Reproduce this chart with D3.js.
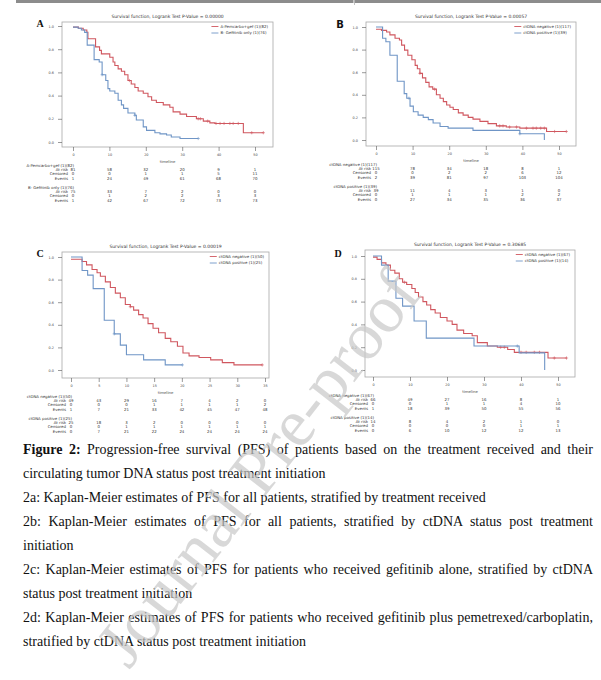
<!DOCTYPE html>
<html><head><meta charset="utf-8">
<script src="https://cdn.jsdelivr.net/npm/d3@7"></script>
<style>body{margin:0;background:#fff}svg{display:block}</style>
</head><body>
<script>
// ---------------- DATA ----------------
const titles = [
  "Survival function, Logrank Test P-Value = 0.00000",
  "Survival function, Logrank Test P-Value = 0.00057",
  "Survival function, Logrank Test P-Value = 0.00019",
  "Survival function, Logrank Test P-Value = 0.30685"
];
const ticks50 = [0, 10, 20, 30, 40, 50];
const ticks35 = [0, 5, 10, 15, 20, 25, 30, 35];
const yTicks = [0, 0.2, 0.4, 0.6, 0.8, 1.0];
const rowLabels = ["At risk", "Censored", "Events"];

const legendA = ["A-Pemcarbo+gef (1)(82)", "B- Gefitinib only (1)(76)"];
const legendB = ["ctDNA negative (1)(117)", "ctDNA positive (1)(39)"];
const legendC = ["ctDNA negative (1)(50)", "ctDNA positive (1)(25)"];
const legendD = ["ctDNA negative (1)(67)", "ctDNA positive (1)(14)"];

// Panel A
const aRedT = [0, 1.5, 2.8, 3.8, 4.1, 6.2, 7.3, 7.8, 10.1, 11, 11.5, 12.4, 13.3, 14.2, 15.1, 16, 17, 17.9, 19.3, 20.6, 21.6, 22.9, 24.8, 26.6, 27.5, 29.4, 31.2, 33.9, 35.8, 37.6, 39, 46.8];
const aRedS = [0.99, 0.98, 0.965, 0.945, 0.89, 0.82, 0.79, 0.76, 0.73, 0.69, 0.66, 0.63, 0.61, 0.58, 0.53, 0.50, 0.47, 0.44, 0.42, 0.39, 0.36, 0.34, 0.32, 0.30, 0.26, 0.24, 0.22, 0.20, 0.18, 0.165, 0.16, 0.08];
const aRedEnd = 52.3;
const aRedCens = [15.5, 34.4, 35, 37, 39.3, 40.4, 41.5, 43.1, 44, 45.4, 49.1, 52.3];
const aBlueT = [0, 1.4, 2.3, 3.2, 3.9, 5.8, 7.2, 8, 9, 9.6, 10.1, 11.5, 12.4, 13.3, 13.9, 15.1, 17, 17.4, 19.3, 20.2, 22.5, 23.9, 25.7, 27, 29.4];
const aBlueS = [0.99, 0.98, 0.965, 0.945, 0.835, 0.71, 0.69, 0.58, 0.53, 0.46, 0.44, 0.42, 0.36, 0.32, 0.29, 0.25, 0.23, 0.19, 0.13, 0.10, 0.08, 0.07, 0.06, 0.043, 0.03];
const aBlueEnd = 34.4;
const aBlueCens = [8, 17, 34.4];
const aTab1 = {atRisk: [81, 58, 32, 20, 9, 1], censored: [0, 0, 1, 1, 5, 11], events: [1, 24, 49, 61, 68, 70]};
const aTab2 = {atRisk: [75, 33, 7, 2, 0, 0], censored: [0, 1, 2, 2, 3, 3], events: [1, 42, 67, 72, 73, 73]};

// Panel B
const bRedT = [0, 1.5, 2.9, 3.8, 5.2, 6.4, 7.0, 7.8, 8.7, 9.8, 10.7, 11.3, 12, 12.7, 13.6, 14.5, 15.5, 16.5, 17.5, 18.4, 19.3, 20.2, 21.1, 22.5, 23.8, 25.2, 26.5, 28.4, 30.6, 32.9, 35.6, 39.3, 46.6];
const bRedS = [0.98, 0.97, 0.956, 0.93, 0.90, 0.885, 0.84, 0.795, 0.75, 0.71, 0.66, 0.63, 0.59, 0.55, 0.51, 0.47, 0.45, 0.40, 0.37, 0.34, 0.31, 0.29, 0.27, 0.24, 0.22, 0.20, 0.185, 0.165, 0.145, 0.125, 0.115, 0.105, 0.075];
const bRedEnd = 52;
const bRedCens = [12, 16, 33.8, 34.7, 36.5, 38.4, 41.1, 42.9, 43.8, 45, 46, 48.8, 52];
const bBlueT = [0, 1.8, 2.7, 3.8, 5.8, 7.7, 8.4, 9.3, 10.2, 11.5, 12.9, 14.3, 15.6, 17.5, 19.7, 26.5, 39.3, 46];
const bBlueS = [1.0, 0.90, 0.87, 0.75, 0.52, 0.41, 0.37, 0.30, 0.25, 0.22, 0.20, 0.18, 0.15, 0.12, 0.105, 0.085, 0.055, 0];
const bBlueEnd = 46;
const bBlueCens = [9, 39.3];
const bTab1 = {atRisk: [115, 78, 34, 18, 8, 1], censored: [0, 0, 2, 2, 6, 12], events: [2, 39, 81, 97, 103, 104]};
const bTab2 = {atRisk: [39, 11, 4, 3, 1, 0], censored: [0, 1, 1, 1, 2, 2], events: [0, 27, 34, 35, 36, 37]};

// Panel C
const cRedT = [0, 2, 2.8, 3.8, 4.7, 5.3, 6.2, 7.1, 8, 8.9, 9.8, 10.7, 11.3, 12.2, 13, 13.9, 14.8, 15.8, 17, 18, 19.2, 20.2, 21.3, 23.1, 25.2, 27.3, 29.4];
const cRedS = [0.98, 0.96, 0.93, 0.89, 0.86, 0.83, 0.78, 0.73, 0.68, 0.64, 0.58, 0.56, 0.53, 0.49, 0.46, 0.41, 0.37, 0.33, 0.28, 0.25, 0.21, 0.15, 0.125, 0.11, 0.09, 0.065, 0.045];
const cRedEnd = 34.5;
const cRedCens = [10.7, 34.5];
const cBlueT = [0, 2, 3, 4, 6, 7.8, 8.9, 10, 13.1, 17];
const cBlueS = [1.0, 0.88, 0.84, 0.72, 0.44, 0.32, 0.22, 0.135, 0.09, 0.045];
const cBlueEnd = 20.1;
const cBlueCens = [7.8, 20.1];
const cTab1 = {atRisk: [49, 43, 29, 16, 7, 4, 2, 0], censored: [0, 0, 0, 1, 1, 1, 1, 2], events: [1, 7, 21, 33, 42, 45, 47, 48]};
const cTab2 = {atRisk: [25, 18, 3, 2, 0, 0, 0, 0], censored: [0, 0, 1, 1, 1, 1, 1, 1], events: [0, 7, 21, 22, 24, 24, 24, 24]};

// Panel D
const dRedT = [0, 1.1, 2.3, 3.5, 4.7, 5.9, 7.1, 8, 9.1, 10.5, 11.4, 12.3, 13.5, 14.5, 15.6, 16.8, 18.2, 20, 21.4, 22.7, 24.5, 26.8, 28.2, 30.9, 33.6, 36.4, 38.2, 47.3];
const dRedS = [0.99, 0.97, 0.94, 0.92, 0.875, 0.85, 0.80, 0.77, 0.75, 0.715, 0.68, 0.64, 0.60, 0.57, 0.53, 0.50, 0.46, 0.43, 0.40, 0.35, 0.32, 0.30, 0.24, 0.21, 0.20, 0.18, 0.155, 0.105];
const dRedEnd = 52.3;
const dRedCens = [8.5, 34.5, 35.5, 40, 41.4, 43.6, 45, 49, 52.3];
const dBlueT = [0, 2.3, 4.1, 6.2, 8, 11.1, 14.4, 27.3, 39.5, 46.4];
const dBlueS = [1.0, 0.92, 0.78, 0.63, 0.56, 0.43, 0.28, 0.21, 0.15, 0];
const dBlueEnd = 46.4;
const dBlueCens = [39];
const dTab1 = {atRisk: [66, 49, 27, 16, 8, 1], censored: [0, 0, 1, 1, 4, 10], events: [1, 18, 39, 50, 55, 56]};
const dTab2 = {atRisk: [14, 8, 4, 2, 1, 0], censored: [0, 0, 0, 0, 1, 1], events: [0, 6, 10, 12, 12, 13]};

const captionLines = [
  {parts: [{t: "Figure 2:", b: true}, {t: " Progression-free survival (PFS) of patients based on the treatment received and their"}], justify: true},
  {parts: [{t: "circulating tumor DNA status post treatment initiation"}], justify: false},
  {parts: [{t: "2a: Kaplan-Meier estimates of PFS for all patients, stratified by treatment received"}], justify: false},
  {parts: [{t: "2b: Kaplan-Meier estimates of PFS for all patients, stratified by ctDNA status post treatment"}], justify: true},
  {parts: [{t: "initiation"}], justify: false},
  {parts: [{t: "2c: Kaplan-Meier estimates of PFS for patients who received gefitinib alone, stratified by ctDNA"}], justify: true},
  {parts: [{t: "status post treatment initiation"}], justify: false},
  {parts: [{t: "2d: Kaplan-Meier estimates of PFS for patients who received gefitinib plus pemetrexed/carboplatin,"}], justify: true},
  {parts: [{t: "stratified by ctDNA status post treatment initiation"}], justify: false}
];
const watermarkText = "Journal Pre-proof";

// ---------------- DRAW ----------------
const RED = "#d0575f", BLUE = "#6f95c6";
const SANS = "DejaVu Sans", SERIF = "Liberation Serif";

const svg = d3.select("body").append("svg").attr("width", 601).attr("height", 680);
svg.append("rect").attr("width", 601).attr("height", 680).attr("fill", "#fff");

// top strip
svg.append("rect").attr("x", 16).attr("y", 0).attr("width", 585).attr("height", 3).attr("fill", "#8c8c8c");
svg.append("rect").attr("x", 353.5).attr("y", 0).attr("width", 1.2).attr("height", 3).attr("fill", "#fff");
svg.append("rect").attr("x", 354).attr("y", 0).attr("width", 0.6).attr("height", 5).attr("fill", "#999");

const panels = [
  {letter: "A", lf: SERIF, lx: 40, ly: 25, frame: [62, 273, 22, 147], xd: [0, 50], xr: [73, 255], yr: [142, 26], xt: ticks50, title: titles[0], legend: legendA,
   series: [[aRedT, aRedS, aRedEnd, aRedCens, RED], [aBlueT, aBlueS, aBlueEnd, aBlueCens, BLUE]], tabs: [aTab1, aTab2]},
  {letter: "B", lf: SANS, lx: 340, ly: 25, frame: [366, 576, 22, 146], xd: [0, 50], xr: [376, 559], yr: [140, 27], xt: ticks50, title: titles[1], legend: legendB,
   series: [[bRedT, bRedS, bRedEnd, bRedCens, RED], [bBlueT, bBlueS, bBlueEnd, bBlueCens, BLUE]], tabs: [bTab1, bTab2]},
  {letter: "C", lf: SERIF, lx: 40, ly: 255, frame: [62, 269, 252, 378], xd: [0, 35], xr: [71, 265], yr: [370, 257], xt: ticks35, title: titles[2], legend: legendC,
   series: [[cRedT, cRedS, cRedEnd, cRedCens, RED], [cBlueT, cBlueS, cBlueEnd, cBlueCens, BLUE]], tabs: [cTab1, cTab2]},
  {letter: "D", lf: SERIF, lx: 338, ly: 255, frame: [365, 575, 250, 377], xd: [0, 50], xr: [373, 558], yr: [370, 256], xt: ticks50, title: titles[3], legend: legendD,
   series: [[dRedT, dRedS, dRedEnd, dRedCens, RED], [dBlueT, dBlueS, dBlueEnd, dBlueCens, BLUE]], tabs: [dTab1, dTab2]}
];

function survAt(T, S, t) {
  let v = S[0];
  for (let i = 0; i < T.length; i++) if (T[i] <= t) v = S[i];
  return v;
}

panels.forEach(p => {
  const [L, R, Tp, B] = p.frame;
  const g = svg.append("g");
  const x = d3.scaleLinear().domain(p.xd).range(p.xr);
  const y = d3.scaleLinear().domain([0, 1]).range(p.yr);

  g.append("rect").attr("x", L).attr("y", Tp).attr("width", R - L).attr("height", B - Tp)
    .attr("fill", "none").attr("stroke", "#a8a8a8").attr("stroke-width", 0.8);

  const ya = g.append("g").attr("transform", `translate(${L},0)`)
    .call(d3.axisLeft(y).tickValues(yTicks).tickSize(4).tickPadding(4).tickFormat(d3.format(".1f")));
  const xa = g.append("g").attr("transform", `translate(0,${B})`)
    .call(d3.axisBottom(x).tickValues(p.xt).tickSize(4).tickPadding(3).tickFormat(d3.format("d")));
  [ya, xa].forEach(a => {
    a.select(".domain").remove();
    a.selectAll(".tick line").attr("stroke", "#555").attr("stroke-width", 0.6);
    a.selectAll(".tick text").attr("font-family", SANS).attr("font-size", 3.4).attr("fill", "#444");
  });

  g.append("text").attr("x", (L + R) / 2).attr("y", Tp - 5.5).attr("text-anchor", "middle")
    .attr("dominant-baseline", "middle").attr("font-family", SANS).attr("font-size", 4.5).attr("fill", "#333").text(p.title);
  g.append("text").attr("x", p.lx).attr("y", p.ly).attr("text-anchor", "middle").attr("dominant-baseline", "middle")
    .attr("font-family", p.lf).attr("font-weight", "bold").attr("font-size", 10).attr("fill", "#111").text(p.letter);
  g.append("text").attr("x", (L + R) / 2).attr("y", B + 14.5).attr("text-anchor", "middle").attr("dominant-baseline", "middle")
    .attr("font-family", SANS).attr("font-size", 3.8).attr("fill", "#444").text("timeline");

  const line = d3.line().x(d => x(d[0])).y(d => y(d[1])).curve(d3.curveStepAfter);
  p.series.forEach(([T, S, end, cens, col]) => {
    const pts = T.map((t, i) => [t, S[i]]);
    pts.push([end, S[S.length - 1]]);
    g.append("path").attr("d", line(pts)).attr("fill", "none").attr("stroke", col).attr("stroke-width", 1.1);
    g.selectAll(null).data(cens).enter().append("path")
      .attr("d", t => { const cx = x(t), cy = y(survAt(T, S, t)); return `M${cx - 1.6},${cy}h3.2M${cx},${cy - 1.6}v3.2`; })
      .attr("stroke", col).attr("stroke-width", 0.6).attr("fill", "none");
  });

  const leg = g.append("g");
  const texts = p.legend.map((lab, i) => leg.append("text").attr("y", Tp + 4.5 + i * 6.5).attr("dominant-baseline", "middle")
    .attr("font-family", SANS).attr("font-size", 3.9).attr("fill", "#333").text(lab));
  const maxW = d3.max(texts, t => t.node().getComputedTextLength());
  const tx = R - 5 - maxW;
  texts.forEach((t, i) => {
    t.attr("x", tx);
    leg.append("line").attr("x1", tx - 9).attr("x2", tx - 2).attr("y1", Tp + 4.5 + i * 6.5).attr("y2", Tp + 4.5 + i * 6.5)
      .attr("stroke", i === 0 ? RED : BLUE).attr("stroke-width", 0.9);
  });

  const x0 = x(p.xt[0]);
  p.tabs.forEach((tab, gi) => {
    const base = B + 18.5 + gi * 22;
    g.append("text").attr("x", x0 + 1).attr("y", base).attr("text-anchor", "end").attr("dominant-baseline", "middle")
      .attr("font-family", SANS).attr("font-size", 3.9).attr("fill", "#333").text(p.legend[gi]);
    const rows = [tab.atRisk, tab.censored, tab.events];
    rows.forEach((vals, ri) => {
      const ry = base + 4.5 + ri * 4.4;
      g.append("text").attr("x", x0 - 5).attr("y", ry).attr("text-anchor", "end").attr("dominant-baseline", "middle")
        .attr("font-family", SANS).attr("font-size", 3.9).attr("fill", "#333").text(rowLabels[ri]);
      g.selectAll(null).data(vals).enter().append("text")
        .attr("x", (v, k) => x(p.xt[k])).attr("y", ry).attr("text-anchor", "middle").attr("dominant-baseline", "middle")
        .attr("font-family", SANS).attr("font-size", 3.9).attr("fill", "#333").text(v => v);
    });
  });
});

// caption
captionLines.forEach((ln, i) => {
  const yb = 453.5 + i * 24;
  const t = svg.append("text").attr("x", 23).attr("y", yb).attr("font-family", SERIF).attr("font-size", 14).attr("fill", "#111");
  ln.parts.forEach(pt => t.append("tspan").attr("font-weight", pt.b ? "bold" : null).text(pt.t));
  if (ln.justify) {
    const w = t.node().getComputedTextLength();
    const full = ln.parts.map(p => p.t).join("");
    const spaces = (full.match(/ /g) || []).length;
    t.style("word-spacing", ((593 - 23 - w) / spaces) + "px");
  }
});

// watermark
svg.append("text").attr("transform", "translate(258,468) rotate(-52)")
  .attr("text-anchor", "middle").attr("dominant-baseline", "central")
  .attr("font-family", SERIF).attr("font-size", 68).attr("fill", "#c8c8c8").attr("fill-opacity", 0.7)
  .text(watermarkText);
</script></body></html>
